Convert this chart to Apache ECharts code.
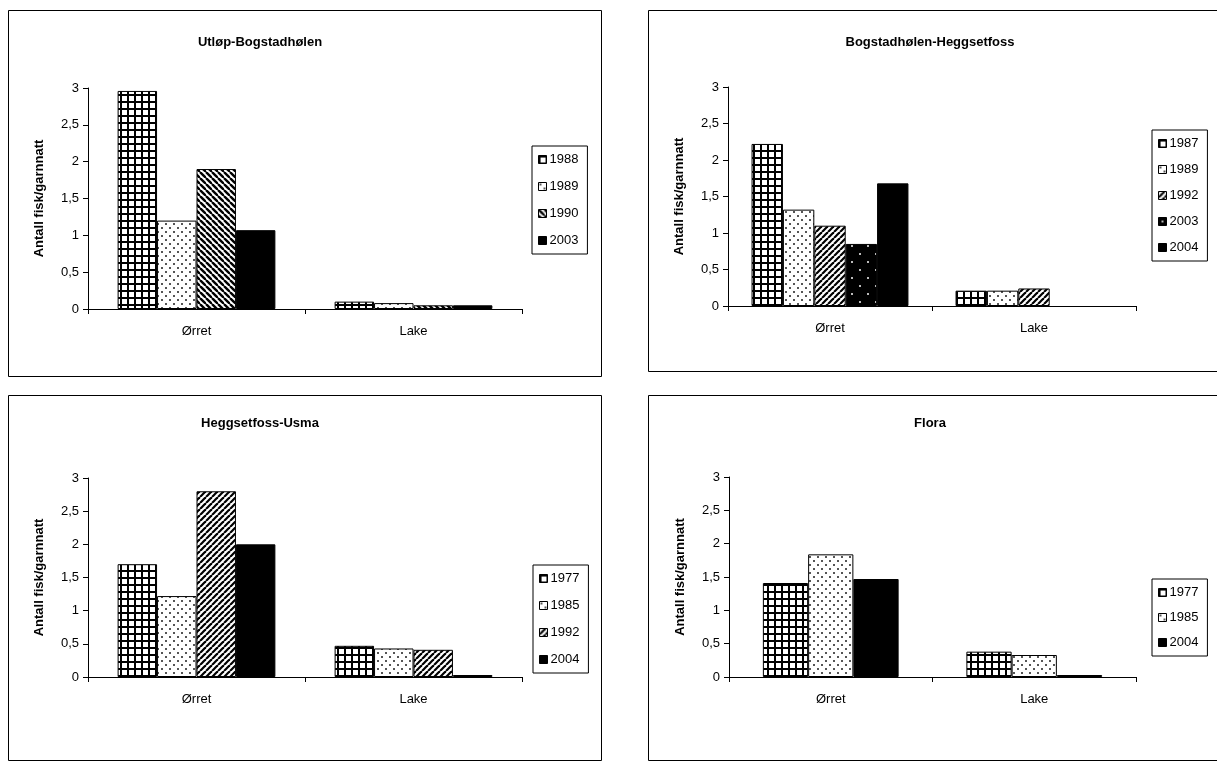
<!DOCTYPE html>
<html>
<head>
<meta charset="utf-8">
<script src="https://cdn.jsdelivr.net/npm/echarts@6/dist/echarts.min.js"></script>
<style>
  html, body { margin: 0; padding: 0; background: #fff; }
  body { width: 1217px; height: 780px; overflow: hidden; position: relative; }
  .box { position: absolute; }
</style>
</head>
<body>
<div id="c1" class="box" style="left:8px;top:10px;width:594px;height:367px"></div>
<div id="c2" class="box" style="left:648px;top:10px;width:594px;height:362px"></div>
<div id="c3" class="box" style="left:8px;top:395px;width:594px;height:366px"></div>
<div id="c4" class="box" style="left:648px;top:395px;width:594px;height:366px"></div>
<script>
// Fish caught per gill-net night, by species and survey year
const categories = ['Ørret', 'Lake'];
const yAxisName = 'Antall fisk/garnnatt';
const yMin = 0, yMax = 3, yStep = 0.5;

// Utløp-Bogstadhølen
const utlopTitle = 'Utløp-Bogstadhølen';
const utlopYears = ['1988', '1989', '1990', '2003'];
const utlop1988 = [2.96, 0.10];
const utlop1989 = [1.20, 0.08];
const utlop1990 = [1.90, 0.05];
const utlop2003 = [1.07, 0.05];

// Bogstadhølen-Heggsetfoss
const bogTitle = 'Bogstadhølen-Heggsetfoss';
const bogYears = ['1987', '1989', '1992', '2003', '2004'];
const bog1987 = [2.22, 0.21];
const bog1989 = [1.32, 0.21];
const bog1992 = [1.10, 0.24];
const bog2003 = [0.85, null];
const bog2004 = [1.68, null];

// Heggsetfoss-Usma
const hegTitle = 'Heggsetfoss-Usma';
const hegYears = ['1977', '1985', '1992', '2004'];
const heg1977 = [1.70, 0.47];
const heg1985 = [1.22, 0.43];
const heg1992 = [2.80, 0.41];
const heg2004 = [2.00, 0.03];

// Flora
const floraTitle = 'Flora';
const floraYears = ['1977', '1985', '2004'];
const flora1977 = [1.41, 0.38];
const flora1985 = [1.84, 0.33];
const flora2004 = [1.47, 0.03];

const FONT = '"Liberation Sans", Arial, sans-serif';

// Hatch fills drawn on small repeating canvas tiles
function tile(w, h, draw) {
  const c = document.createElement('canvas');
  c.width = w; c.height = h;
  const g = c.getContext('2d');
  draw(g, w, h);
  return { image: c, repeat: 'repeat' };
}
const PAT = {
  grid: tile(7, 7, (g, w, h) => {
    g.fillStyle = '#fff'; g.fillRect(0, 0, w, h);
    g.fillStyle = '#000'; g.fillRect(0, 0, w, 2); g.fillRect(0, 0, 2, h);
  }),
  dots: tile(8, 8, (g, w, h) => {
    g.fillStyle = '#fff'; g.fillRect(0, 0, w, h);
    g.fillStyle = '#555'; g.fillRect(1, 1, 2, 2); g.fillRect(5, 5, 2, 2);
  }),
  back: tile(6, 6, (g, w, h) => {
    g.fillStyle = '#fff'; g.fillRect(0, 0, w, h);
    g.strokeStyle = '#000'; g.lineWidth = 2.4;
    for (const k of [-6, 0, 6]) { g.beginPath(); g.moveTo(k, 0); g.lineTo(k + 6, 6); g.stroke(); }
  }),
  slash: tile(6, 6, (g, w, h) => {
    g.fillStyle = '#fff'; g.fillRect(0, 0, w, h);
    g.strokeStyle = '#000'; g.lineWidth = 2.2;
    for (const k of [-6, 0, 6]) { g.beginPath(); g.moveTo(k, 6); g.lineTo(k + 6, 0); g.stroke(); }
  }),
  blackDots: tile(16, 16, (g, w, h) => {
    g.fillStyle = '#000'; g.fillRect(0, 0, w, h);
    g.fillStyle = '#bbb'; g.fillRect(3, 3, 2, 2); g.fillRect(11, 11, 2, 2);
  }),
  solid: '#000'
};

function commaFmt(v) { return String(v).replace('.', ','); }

function buildOption(o) {
  const n = o.years.length;
  return {
    animation: false,
    backgroundColor: '#fff',
    textStyle: { fontFamily: FONT, color: '#000' },
    title: {
      text: o.title, left: o.titleX, top: o.titleTop, textAlign: 'center',
      textStyle: { fontFamily: FONT, fontSize: 13, fontWeight: 'bold', color: '#000' }
    },
    graphic: [{
      type: 'rect', silent: true, z: -10,
      shape: { x: 0.5, y: 0.5, width: o.boxW - 1, height: o.boxH - 1 },
      style: { fill: null, stroke: '#000', lineWidth: 1 }
    }],
    legend: {
      orient: 'vertical', left: o.legendX, top: o.legendY,
      data: o.years, icon: 'rect', itemWidth: 8, itemHeight: 8, itemGap: o.legendGap,
      padding: [7, 9, 7, 6], borderColor: '#000', borderWidth: 1,
      selectedMode: false,
      itemStyle: { borderColor: '#000', borderWidth: 1 },
      textStyle: { fontFamily: FONT, fontSize: 13, color: '#000', padding: [0, 0, 0, -2] }
    },
    grid: { left: o.grid[0], top: o.grid[1], width: o.grid[2], height: o.grid[3], containLabel: false },
    xAxis: {
      type: 'category', data: categories, boundaryGap: true,
      axisLine: { lineStyle: { color: '#000', width: 1 } },
      axisTick: { show: true, alignWithLabel: false, length: 5, lineStyle: { color: '#000' } },
      axisLabel: { color: '#000', fontSize: 13, fontFamily: FONT, margin: 16 }
    },
    yAxis: {
      type: 'value', min: yMin, max: yMax, interval: yStep,
      splitLine: { show: false },
      axisLine: { show: true, lineStyle: { color: '#000', width: 1 } },
      axisTick: { show: true, length: 5, lineStyle: { color: '#000' } },
      axisLabel: { color: '#000', fontSize: 13, fontFamily: FONT, margin: 9, formatter: commaFmt },
      name: yAxisName, nameLocation: 'middle', nameGap: 42,
      nameTextStyle: { fontFamily: FONT, fontSize: 13, fontWeight: 'bold', color: '#000' }
    },
    series: o.years.map((y, i) => ({
      type: 'bar', name: y, data: o.values[i],
      barGap: '0%', barCategoryGap: (150 / (n + 1.5)).toFixed(1) + '%',
      itemStyle: { color: o.fills[i], borderColor: '#000', borderWidth: 1 },
      emphasis: { disabled: true }
    }))
  };
}

const charts = [
  { id: 'c1', title: utlopTitle, titleX: 247, titleTop: 21, boxW: 594, boxH: 367,
    legendX: 524, legendY: 136, legendGap: 14, grid: [80, 78, 434, 221],
    years: utlopYears, values: [utlop1988, utlop1989, utlop1990, utlop2003],
    fills: [PAT.grid, PAT.dots, PAT.back, PAT.solid] },
  { id: 'c2', title: bogTitle, titleX: 277, titleTop: 21, boxW: 594, boxH: 362,
    legendX: 504, legendY: 120, legendGap: 13, grid: [80, 77, 408, 219],
    years: bogYears, values: [bog1987, bog1989, bog1992, bog2003, bog2004],
    fills: [PAT.grid, PAT.dots, PAT.slash, PAT.blackDots, PAT.solid] },
  { id: 'c3', title: hegTitle, titleX: 247, titleTop: 17, boxW: 594, boxH: 366,
    legendX: 525, legendY: 170, legendGap: 14, grid: [80, 83, 434, 199],
    years: hegYears, values: [heg1977, heg1985, heg1992, heg2004],
    fills: [PAT.grid, PAT.dots, PAT.slash, PAT.solid] },
  { id: 'c4', title: floraTitle, titleX: 277, titleTop: 17, boxW: 594, boxH: 366,
    legendX: 504, legendY: 184, legendGap: 12, grid: [81, 82, 407, 200],
    years: floraYears, values: [flora1977, flora1985, flora2004],
    fills: [PAT.grid, PAT.dots, PAT.solid] }
];

charts.forEach(c => {
  const chart = echarts.init(document.getElementById(c.id), null, { renderer: 'canvas' });
  chart.setOption(buildOption(c));
});
</script>
</body>
</html>
